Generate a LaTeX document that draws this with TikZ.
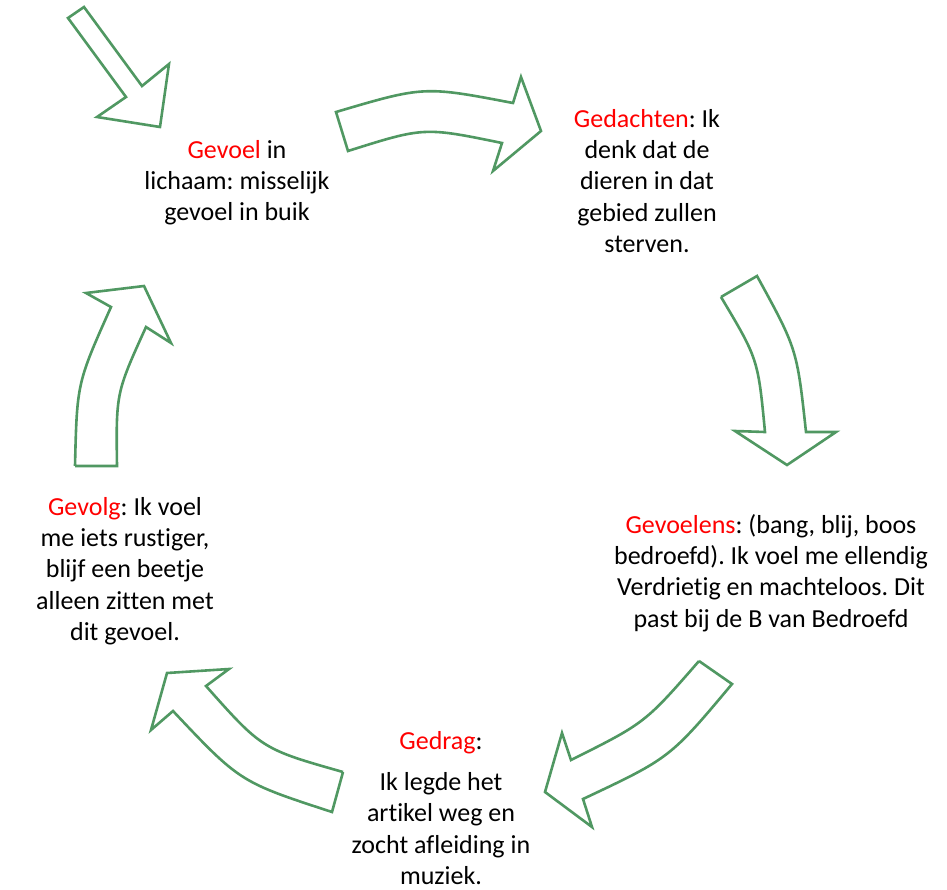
\documentclass[tikz,border=0pt]{standalone}
\usepackage{fontspec}
\setmainfont{Carlito}[Ligatures=NoCommon]
\usepackage{tikz}
\definecolor{arrowgreen}{RGB}{80,152,98}
\newcommand{\kw}[1]{\textcolor{red}{#1}}
\tikzset{%
  blockarrow/.style = {draw=arrowgreen, line width=2.6pt, fill=white,%
                       line join=miter},%
  stage/.style      = {align=center, inner sep=0pt,%
                       font=\fontsize{26}{31.2}\selectfont}%
}
\frenchspacing
\begin{document}
\begin{tikzpicture}[x=1pt,y=-1pt]%
	\useasboundingbox (0,0) rectangle (947,889);%
	% block arrows of the cycle
	\draw[blockarrow] (68,18) -- (84,7) -- (142,86) -- (169,64) -- (160,127)%
		-- (97,117) -- (126,97) -- cycle;%
	\draw[blockarrow] (336,112) .. controls (424,86) .. (513,103) -- (521,77)%
		-- (541,131) -- (493,171) -- (502,143) .. controls (424,127) .. (348,151) -- cycle;%
	\draw[blockarrow] (721,297) -- (757,276) .. controls (797,349) .. (806,432)%
		-- (836,432) -- (787,465) -- (735,431) -- (765,432) .. controls (758,359) .. (721,297);%
	\draw[blockarrow] (699,661) -- (732,684) .. controls (670,758) .. (583,799)%
		-- (592,827) -- (545,792) -- (562,733) -- (571,760) .. controls (645,723) .. (699,661);%
	\draw[blockarrow] (343,772) -- (332,812) .. controls (240,782) .. (173,711)%
		-- (151,730) -- (167,673) -- (229,669) -- (206,686) .. controls (262,749) .. (343,772);%
	\draw[blockarrow] (75,466) -- (117,466) .. controls (116,393) .. (146,327)%
		-- (171,343) -- (144,286) -- (86,293) -- (111,307) .. controls (77,383) .. (75,466);%
	% stages
	\node[stage] (gevoel) at (237,183) {\kw{Gevoel} in\\lichaam: misselijk\\gevoel in buik};%
	\node[stage] (gedachten) at (647,181) {\kw{Gedachten}: Ik\\denk dat de\\dieren in dat\\%
		gebied zullen\\sterven.};%
	\node[stage] (gevoelens) at (771,573) {\kw{Gevoelens}: (bang, blij, boos\\%
		bedroefd). Ik voel me ellendig\\Verdrietig en machteloos. Dit\\past bij de B van Bedroefd};%
	\node[stage] (gedrag) at (441,808) {\kw{Gedrag}:\\[10pt]Ik legde het\\artikel weg en\\%
		zocht afleiding in\\muziek.};%
	\node[stage] (gevolg) at (125,571) {\kw{Gevolg}: Ik voel\\me iets rustiger,\\blijf een beetje\\%
		alleen zitten met\\dit gevoel.};%
\end{tikzpicture}
\end{document}
